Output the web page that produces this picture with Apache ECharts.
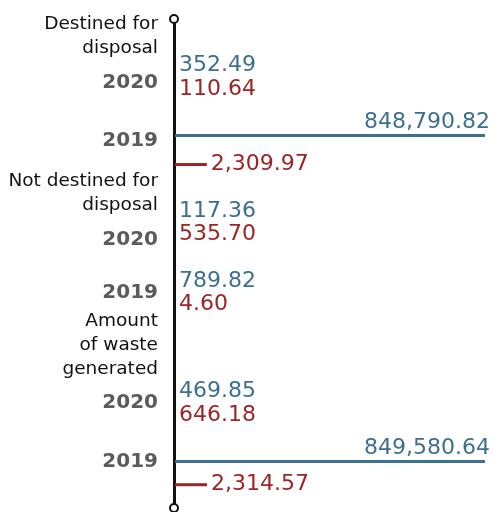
<!DOCTYPE html>
<html>
<head>
<meta charset="utf-8">
<script src="https://cdn.jsdelivr.net/npm/echarts@6/dist/echarts.min.js"></script>
<style>html,body{margin:0;padding:0;background:#fff}#c{width:501px;height:512px}</style>
</head>
<body>
<div id="c"></div>
<script>
// ---- data ----
const groups = ['Destined for\ndisposal', 'Not destined for\ndisposal', 'Amount\nof waste\ngenerated'];
const years = ['2020', '2019'];
// per group: [2020, 2019]
const blueValues = [352.49, 848790.82, 117.36, 789.82, 469.85, 849580.64];
const redValues  = [110.64, 2309.97, 535.70, 4.60, 646.18, 2314.57];

// ---- layout (row slots on the category axis) ----
const ROWS = 85;
const blueRows = [8, 20, 33, 45, 64, 76];
const redRows  = [12, 25, 37, 49, 68, 80];
const yearRows = [11, 21, 38, 47, 66, 76];
const headerRows = [3, 30, 56];
const X_MIN = 1150;
const BLUE = '#3d6f8e', RED = '#9b2427', FONT = 'DejaVu Sans';

const cats = [];
for (let i = 0; i < ROWS; i++) cats.push(String(i));
const labelMap = {};
headerRows.forEach((r, g) => {
  labelMap[r] = groups[g].split('\n').map(s => '{h|' + s + '}').join('\n');
});
yearRows.forEach((r, i) => { labelMap[r] = '{y|' + years[i % 2] + '}'; });

const fmt = v => v.toLocaleString('en-US', {minimumFractionDigits: 2, maximumFractionDigits: 2});
const allMax = Math.max(...blueValues, ...redValues);

function makeRender(color) {
  return function (params, api) {
    const v = api.value(0), row = api.value(1);
    const start = api.coord([X_MIN, row]);
    const end = api.coord([Math.max(v, X_MIN), row]);
    const len = end[0] - start[0];
    const gridW = params.coordSys.width;
    const long = len > gridW / 2;
    const children = [];
    if (len > 0) {
      children.push({
        type: 'rect',
        shape: {x: start[0] + 1, y: start[1] - 1.5, width: len - 1, height: 3},
        style: {fill: color}
      });
    }
    children.push({
      type: 'text',
      style: long ? {
        text: fmt(v), x: end[0] + 5, y: start[1] - 13,
        fill: color, fontSize: 22, fontFamily: FONT, align: 'right', verticalAlign: 'middle'
      } : {
        text: fmt(v), x: Math.max(end[0], start[0] + 1) + 4, y: start[1],
        fill: color, fontSize: 22, fontFamily: FONT, align: 'left', verticalAlign: 'middle'
      }
    });
    return {type: 'group', children};
  };
}

const chart = echarts.init(document.getElementById('c'), null, {renderer: 'canvas'});
chart.setOption({
  animation: false,
  backgroundColor: '#fff',
  grid: {left: 174, right: 16, top: 19, height: 489},
  xAxis: {
    type: 'log', min: X_MIN, max: allMax, show: false
  },
  yAxis: {
    type: 'category', data: cats, inverse: true, boundaryGap: false,
    axisLine: {show: true, onZero: false, lineStyle: {color: '#111', width: 3},
      symbol: ['emptyCircle', 'emptyCircle'], symbolSize: [8, 8]},
    axisTick: {show: false}, splitLine: {show: false},
    axisLabel: {
      interval: 0, margin: 16, align: 'right',
      formatter: (val, idx) => labelMap[idx] || '',
      rich: {
        h: {fontSize: 18.5, fontFamily: FONT, color: '#111', lineHeight: 24, align: 'right'},
        y: {fontSize: 20, fontFamily: FONT, fontWeight: 'bold', color: '#5b5b5b', align: 'right'}
      }
    }
  },
  series: [
    {name: 'blue', type: 'custom', renderItem: makeRender(BLUE), encode: {x: 0, y: 1},
     data: blueValues.map((v, i) => [v, blueRows[i]])},
    {name: 'red', type: 'custom', renderItem: makeRender(RED), encode: {x: 0, y: 1},
     data: redValues.map((v, i) => [v, redRows[i]])}
  ]
});
</script>
</body>
</html>
